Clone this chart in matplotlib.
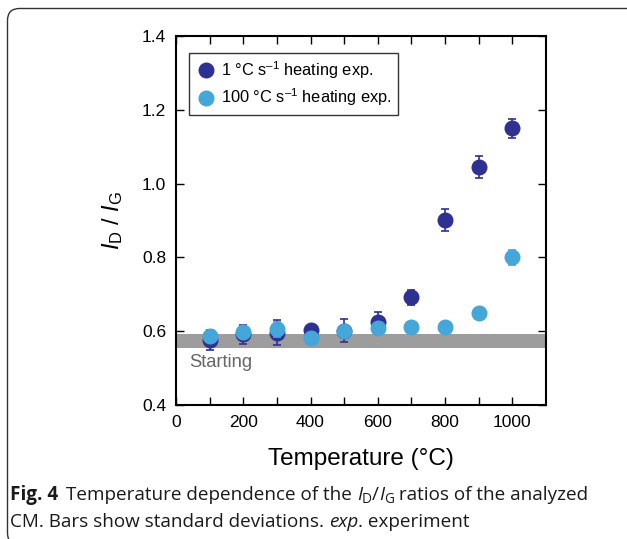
import matplotlib.pyplot as plt
import numpy as np
from matplotlib.patches import FancyBboxPatch
from matplotlib.transforms import IdentityTransform

plt.rcParams['font.family'] = 'Liberation Sans'
plt.rcParams['mathtext.fontset'] = 'custom'
plt.rcParams['mathtext.rm'] = 'Liberation Sans'
plt.rcParams['mathtext.it'] = 'Liberation Sans:italic'

# data
temps = [100, 200, 300, 400, 500, 600, 700, 800, 900, 1000]
slow_ratio = [0.576, 0.592, 0.596, 0.603, 0.601, 0.626, 0.692, 0.901, 1.045, 1.150]
slow_err = [0.028, 0.026, 0.034, 0.010, 0.031, 0.027, 0.020, 0.030, 0.030, 0.026]
fast_ratio = [0.587, 0.597, 0.605, 0.582, 0.601, 0.608, 0.612, 0.611, 0.650, 0.800]
fast_err = [0.010, 0.010, 0.020, 0.010, 0.010, 0.010, 0.010, 0.010, 0.010, 0.021]
start_band = (0.554, 0.592)

dark = '#2e3192'
light = '#45a6d9'

W, H = 627, 539
fig = plt.figure(figsize=(W / 100, H / 100), dpi=100)

# rounded frame around the figure (pixel coords, origin bottom-left)
frame = FancyBboxPatch((7.5, H - 545), 700, 545 - 8.5,
                       boxstyle='round,pad=0,rounding_size=12',
                       transform=IdentityTransform(), fill=False,
                       ec='#333333', lw=1.0)
fig.patches.append(frame)

ax = fig.add_axes([176 / W, 1 - 405 / H, 370 / W, 369 / H])

ax.axhspan(start_band[0], start_band[1], color='#9d9d9d', lw=0, zorder=1)
ax.text(40, 0.538, 'Starting', color='#666666', fontsize=13.2, va='top', ha='left')

ax.errorbar(temps, slow_ratio, yerr=slow_err, fmt='o', color=dark, ms=10.5,
            elinewidth=1.2, capsize=3, capthick=1.2, zorder=3)
ax.errorbar(temps, fast_ratio, yerr=fast_err, fmt='o', color=light, ms=10.5,
            elinewidth=1.2, capsize=3, capthick=1.2, zorder=4)
# marker-only handles for the legend
ax.plot([], [], 'o', color=dark, ms=10.5, label='1 °C s$^{\u2013 1}$ heating exp.')
ax.plot([], [], 'o', color=light, ms=10.5, label='100 °C s$^{\u2013 1}$ heating exp.')

ax.set_xlim(0, 1100)
ax.set_ylim(0.4, 1.4)
ax.set_xticks(np.arange(0, 1001, 200))
ax.set_xticks(np.arange(100, 1001, 200), minor=True)
ax.set_yticks(np.arange(0.4, 1.41, 0.2))
ax.set_yticklabels(['0.4', '0.6', '0.8', '1.0', '1.2', '1.4'])
ax.tick_params(which='both', direction='in', top=True, right=True,
               length=6, width=1, labelsize=12.5, pad=7)
for s in ax.spines.values():
    s.set_linewidth(1.5)

ax.set_xlabel('Temperature (°C)', fontsize=17.5, labelpad=13)
ax.set_ylabel('$I_{\\mathrm{D}}$ / $I_{\\mathrm{G}}$', fontsize=17, labelpad=12)

leg = ax.legend(loc='upper left', bbox_to_anchor=(0.035, 0.955), fontsize=11.8,
                frameon=True, fancybox=False, handletextpad=0.25,
                borderpad=0.4, labelspacing=0.35, handlelength=1.3,
                borderaxespad=0)
leg.get_frame().set_edgecolor('black')
leg.get_frame().set_linewidth(1.0)

# caption, built from pieces
cap_font = 'Open Sans'
cap_size = 13.6
fig.canvas.draw()
renderer = fig.canvas.get_renderer()


def put_pieces(pieces, x0, y0):
    x = x0
    for txt, kw in pieces:
        size = kw.pop('size', cap_size)
        dy = kw.pop('dy', 0)
        t = fig.text(x / W, 1 - (y0 + dy) / H, txt, fontsize=size,
                     family=cap_font, va='baseline', ha='left', color='#1a1a1a', **kw)
        bb = t.get_window_extent(renderer)
        x += bb.width


put_pieces([('Fig. 4', dict(weight='bold')),
            ('\u2009 Temperature dependence of the ', {}),
            ('I', dict(style='italic')),
            ('D', dict(size=9.8, dy=3)),
            ('/', {}),
            ('I', dict(style='italic')),
            ('G', dict(size=9.8, dy=3)),
            (' ratios of the analyzed', {})], 10, 500)
put_pieces([('CM. Bars show standard deviations. ', {}),
            ('exp', dict(style='italic')),
            ('. experiment', {})], 10, 527)

fig.savefig('out.png', dpi=100)
